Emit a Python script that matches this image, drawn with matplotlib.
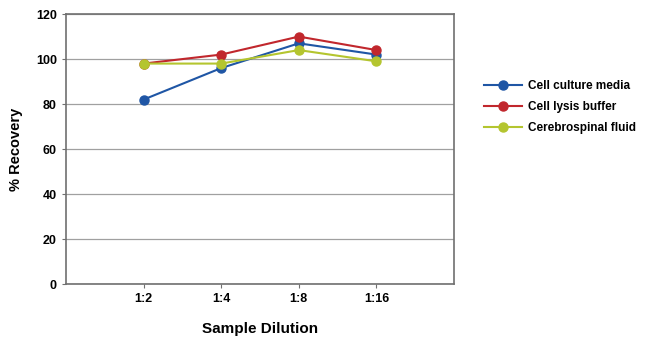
import matplotlib
matplotlib.use('Agg')
import matplotlib.pyplot as plt

plt.rcParams['font.family'] = ['Liberation Sans', 'DejaVu Sans']

# data
dilutions = ['1:2', '1:4', '1:8', '1:16']
culture_media = [82, 96, 107, 102]
lysis_buffer = [98, 102, 110, 104]
csf = [98, 98, 104, 99]

fig = plt.figure(figsize=(6.5, 3.52), dpi=100)
ax = fig.add_axes([0.1015, 0.193, 0.597, 0.767])

x = range(1, len(dilutions) + 1)
ax.plot(x, culture_media, '-o', color='#1f56a5', lw=1.5, ms=6.5, label='Cell culture media')
ax.plot(x, lysis_buffer, '-o', color='#c1272d', lw=1.5, ms=6.5, label='Cell lysis buffer')
ax.plot(x, csf, '-o', color='#b4c52f', lw=1.5, ms=6.5, label='Cerebrospinal fluid')

ax.set_xlim(0, 5)
ax.set_ylim(0, 120)
ax.set_yticks(range(0, 121, 20))
ax.set_xticks(list(x))
ax.set_xticklabels(dilutions)
ax.grid(axis='y', color='#a0a0a0', lw=0.9)
ax.set_axisbelow(True)
for s in ax.spines.values():
    s.set_color('#707070')
    s.set_linewidth(1.2)
ax.tick_params(colors='#707070', length=3, labelcolor='black', labelsize=9)
for t in ax.get_xticklabels() + ax.get_yticklabels():
    t.set_fontweight('bold')

ax.set_xlabel('Sample Dilution', fontsize=11, fontweight='bold', labelpad=12)
ax.set_ylabel('% Recovery', fontsize=10.5, fontweight='bold', labelpad=9)

leg = ax.legend(loc='center left', bbox_to_anchor=(1.05, 0.655), frameon=False,
                prop={'weight': 'bold', 'size': 8.5}, handlelength=3.2,
                handletextpad=0.5, labelspacing=0.75)

fig.savefig('out.png', dpi=100)
